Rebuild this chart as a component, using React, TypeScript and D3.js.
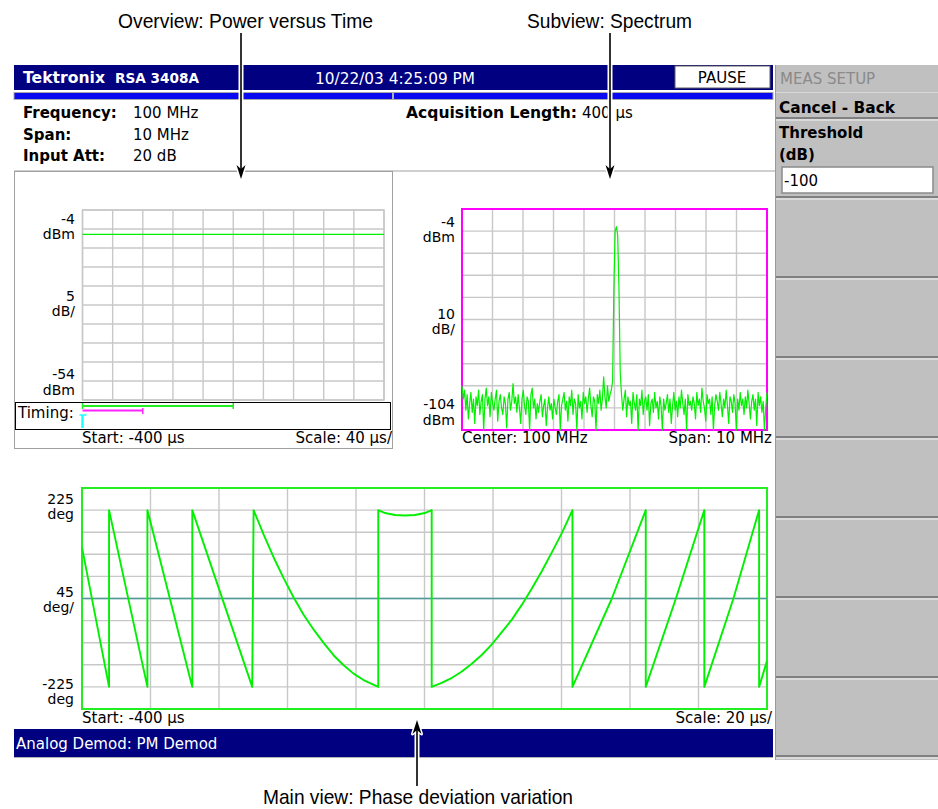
import React from 'react';
import * as d3 from 'd3';

const FONT = "'DejaVu Sans', Verdana, sans-serif";
const ANNO_FONT = "'Liberation Sans Narrow', 'Liberation Sans', Arial, sans-serif";

// ---------- Header info ----------
const headerTitle = ['Tektronix', 'RSA 3408A'];
const headerDate = '10/22/03 4:25:09 PM';
const infoLabels = ['Frequency:', 'Span:', 'Input Att:'];
const infoValues = ['100 MHz', '10 MHz', '20 dB'];
const acqLabel = 'Acquisition Length:';
const acqValue = '400 µs';

// ---------- Soft keys ----------
const menuTitle = 'MEAS SETUP';
const menuItems = ['Cancel - Back'];
const thresholdLabel = ['Threshold', '(dB)'];
const thresholdValue = '-100';
const softkeySeparators = [197, 277, 357, 437, 517, 597, 677, 756];

// ---------- Overview: power vs time ----------
const overviewTimeDomain = [-400, 0];
const overviewDbmDomain = [-54, -4];
const overviewYLabels = [['-4', 'dBm'], ['5', 'dB/'], ['-54', 'dBm']];
const powerTimes = [-400, 0];
const powerDbm = [-10.4, -10.4];
const timingMainSpan = [-400, -200];
const timingSpectrumSpan = [-400, -320];
const timingCursor = -400;

// ---------- Subview: spectrum ----------
const spectrumFreqDomain = [95, 105];
const spectrumDbmDomain = [-104, -4];
const spectrumYLabels = [['-4', 'dBm'], ['10', 'dB/'], ['-104', 'dBm']];
const spectrumDbm = [
  -84, -90, -86, -95, -88, -99, -92, -87, -96, -90, -101, -89, -93, -86, -97, -91, -88, -104, -90, -85,
  -93, -89, -98, -87, -92, -95, -90, -86, -100, -91, -88, -94, -97, -89, -92, -103, -90, -87, -95, -91,
  -83, -92, -89, -96, -88, -94, -101, -90, -86, -93, -97, -89, -91, -104, -88, -85, -94, -90, -99, -92,
  -96, -91, -88, -98, -93, -90, -102, -94, -89, -95, -92, -99, -90, -94, -97, -91, -88, -104, -93, -90,
  -87, -95, -91, -100, -89, -93, -86, -97, -90, -92, -104, -88, -94, -91, -99, -87, -92, -89, -96, -90,
  -85, -93, -98, -89, -91, -104, -88, -92, -86, -95, -90, -80, -89, -94, -84, -91, -88, -86, -82, -40,
  -14, -12, -16, -40, -78, -88, -95, -90, -86, -98, -89, -93, -91, -101, -87, -92, -95, -88, -104, -90,
  -93, -86, -97, -91, -89, -95, -88, -102, -92, -90, -96, -87, -94, -91, -99, -89, -93, -104, -90, -95,
  -92, -88, -96, -90, -101, -93, -87, -95, -91, -98, -89, -94, -86, -92, -97, -90, -104, -88, -93, -91,
  -95, -89, -92, -99, -87, -93, -90, -96, -85, -91, -94, -100, -88, -92, -90, -97, -89, -104, -93, -88,
  -91, -95, -87, -92, -98, -90, -94, -86, -93, -101, -89, -91, -96, -88, -92, -104, -90, -95, -87, -93,
  -90, -97, -89, -94, -86, -92, -99, -91, -88, -95, -90, -102, -87, -93, -89, -96, -91, -104, -94, -87,
];

// ---------- Main view: phase deviation ----------
const phaseTimeDomain = [-400, -200];
const phaseDegDomain = [-225, 225];
const phaseYLabels = [['225', 'deg'], ['45', 'deg/'], ['-225', 'deg']];
const phaseTimes = [
  -400, -392.1, -392.1, -380.9, -380.9, -367.8, -367.8, -350.3,
  -349.9, -346.9, -344.0, -341.1, -338.2, -335.3, -332.3, -329.4, -326.5, -323.6, -320.7, -317.8, -313.5,
  -313.5, -311.5, -308.6, -305.7, -302.8, -299.9, -297.9,
  -297.9, -295.0, -292.1, -289.2, -286.2, -283.3, -280.4, -277.5, -274.5, -271.6, -268.7, -265.8, -262.9, -259.9, -256.8,
  -256.8, -245.3, -235.4, -235.4, -226.6, -218.3, -218.3, -209.8, -202.3, -202.3,
  -200,
];
const phaseDeg = [
  104, -180, 180, -180, 180, -180, 180, -180,
  180, 129, 83, 41, 2, -33, -64, -91, -116, -136, -153, -166, -180,
  180, 174, 170, 169, 170, 174, 180,
  -180, -172, -162, -149, -133, -115, -94, -69, -43, -13, 20, 55, 93, 133, 180,
  -180, 0, 180, -180, 0, 180, -180, 0, 180, -180,
  -127,
];

const statusText = 'Analog Demod: PM Demod';
const annotations = [
  { text: 'Overview: Power versus Time', x0: 118, x1: 373, y: 28 },
  { text: 'Subview: Spectrum', x0: 527, x1: 692, y: 28 },
  { text: 'Main view: Phase deviation variation', x0: 263, x1: 573, y: 804 },
];

const NAVY = '#000080';
const GRID = '#c8c8c8';
const TRACE = '#00f000';

function Grid({ x, y, xTicks, yTicks, stroke }: any) {
  const [x0, x1] = x.range();
  const [y0, y1] = y.range();
  return (
    <g>
      {xTicks.map((t: number, i: number) => (
        <line key={'gx' + i} x1={x(t)} x2={x(t)} y1={y0} y2={y1} stroke={GRID} strokeWidth={1.4} />
      ))}
      {yTicks.map((t: number, i: number) => (
        <line key={'gy' + i} x1={x0} x2={x1} y1={y(t)} y2={y(t)} stroke={GRID} strokeWidth={1.4} />
      ))}
      <rect x={x0} y={y1} width={x1 - x0} height={y0 - y1} fill="none" stroke={stroke} strokeWidth={stroke === GRID ? 1.4 : 2} />
    </g>
  );
}

function YLabels({ labels, xRight, baselines }: any) {
  return (
    <g fontFamily={FONT} fontSize={14} textAnchor="end" fill="#000">
      {labels.map((pair: string[], i: number) => (
        <g key={i}>
          <text x={xRight} y={baselines[i][0]}>{pair[0]}</text>
          <text x={xRight} y={baselines[i][1]}>{pair[1]}</text>
        </g>
      ))}
    </g>
  );
}

function Arrow({ x, yTail, yTip }: any) {
  const dir = yTip > yTail ? 1 : -1;
  const head = `M${x},${yTip} L${x - 4.5},${yTip - dir * 14} L${x},${yTip - dir * 10} L${x + 4.5},${yTip - dir * 14} Z`;
  return (
    <g>
      <line x1={x} x2={x} y1={yTail} y2={yTip - dir * 8} stroke="#fff" strokeWidth={5} />
      <path d={head} fill="#fff" stroke="#fff" strokeWidth={3} strokeLinejoin="round" />
      <line x1={x} x2={x} y1={yTail} y2={yTip - dir * 8} stroke="#000" strokeWidth={1.6} />
      <path d={head} fill="#000" />
    </g>
  );
}

export default function App() {
  const ovX = d3.scaleLinear().domain(overviewTimeDomain).range([82.5, 384]);
  const ovY = d3.scaleLinear().domain(overviewDbmDomain).range([400, 210]);
  const spX = d3.scaleLinear().domain(spectrumFreqDomain).range([462, 767]);
  const spY = d3.scaleLinear().domain(spectrumDbmDomain).range([430, 209]);
  const mX = d3.scaleLinear().domain(phaseTimeDomain).range([82, 767]);
  const mY = d3.scaleLinear().domain(phaseDegDomain).range([709, 488]);

  const powerLine = d3.line<number>().x((_, i) => ovX(powerTimes[i])).y((d) => ovY(d))(powerDbm) || '';
  const nSp = spectrumDbm.length;
  const spFreq = (i: number) => spectrumFreqDomain[0] + (i * (spectrumFreqDomain[1] - spectrumFreqDomain[0])) / (nSp - 1);
  const spLine = d3.line<number>().x((_, i) => spX(spFreq(i))).y((d) => spY(d))(spectrumDbm) || '';
  const phLine = d3.line<number>().x((_, i) => mX(phaseTimes[i])).y((d) => mY(d))(phaseDeg) || '';

  return (
    <svg width={938} height={809} style={{ position: 'absolute', left: 0, top: 0, background: '#fff' }}>
      <rect x={0} y={0} width={938} height={809} fill="#fff" />

      {/* Header bar */}
      <rect x={14} y={65} width={759} height={25} fill={NAVY} />
      <text x={23} y={83} fill="#fff" fontFamily={FONT} fontSize={15} fontWeight="bold" textLength={82} lengthAdjust="spacingAndGlyphs">{headerTitle[0]}</text>
      <text x={115} y={83} fill="#fff" fontFamily={FONT} fontSize={14} fontWeight="bold" textLength={84} lengthAdjust="spacingAndGlyphs">{headerTitle[1]}</text>
      <text x={315} y={84} fill="#fff" fontFamily={FONT} fontSize={15} textLength={160} lengthAdjust="spacingAndGlyphs">{headerDate}</text>
      <rect x={675} y={66} width={95} height={22} fill="#fff" stroke="#606060" strokeWidth={1} />
      <text x={722} y={83} textAnchor="middle" fill="#000" fontFamily={FONT} fontSize={15}>PAUSE</text>

      {/* blue stripe */}
      <rect x={14} y={92.5} width={759} height={7} fill="#0a0af0" stroke="#a8a8a8" strokeWidth={1} />
      <rect x={392} y={92.5} width={2} height={7} fill="#b0b0b0" />

      {/* info block */}
      <g fontFamily={FONT} fontSize={15} fill="#000">
        {infoLabels.map((l, i) => (
          <text key={l} x={23} y={118 + i * 21.5} fontWeight="bold">{l}</text>
        ))}
        {infoValues.map((v, i) => (
          <text key={v} x={133} y={118 + i * 21.5}>{v}</text>
        ))}
        <text x={406} y={118} fontWeight="bold" textLength={171} lengthAdjust="spacingAndGlyphs">{acqLabel}</text>
        <text x={582} y={118}>{acqValue}</text>
      </g>
      <line x1={14} x2={775} y1={171} y2={171} stroke="#a0a0a0" strokeWidth={1} />

      {/* Right soft-key panel */}
      <rect x={776} y={65} width={162} height={695} fill="#c0c0c0" />
      <line x1={775.5} x2={775.5} y1={65} y2={760} stroke="#9a9a9a" strokeWidth={1} />
      <text x={780} y={84} fill="#8a8a8a" fontFamily={FONT} fontSize={15}>{menuTitle}</text>
      <line x1={776} x2={938} y1={92.5} y2={92.5} stroke="#d8d8d8" strokeWidth={1} />
      <text x={779} y={113} fill="#000" fontFamily={FONT} fontSize={15} fontWeight="bold" textLength={116} lengthAdjust="spacingAndGlyphs">{menuItems[0]}</text>
      <line x1={776} x2={938} y1={118} y2={118} stroke="#808080" strokeWidth={2} />
      <line x1={776} x2={938} y1={120} y2={120} stroke="#f4f4f4" strokeWidth={1} />
      <text x={779} y={138} fill="#000" fontFamily={FONT} fontSize={15} fontWeight="bold">{thresholdLabel[0]}</text>
      <text x={779} y={160} fill="#000" fontFamily={FONT} fontSize={15} fontWeight="bold">{thresholdLabel[1]}</text>
      <rect x={782} y={167} width={151} height={26} fill="#fff" stroke="#8a8a8a" strokeWidth={1.5} />
      <text x={784} y={186} fill="#000" fontFamily={FONT} fontSize={15}>{thresholdValue}</text>
      {softkeySeparators.map((y, i) => (
        <g key={i}>
          <line x1={776} x2={938} y1={y} y2={y} stroke="#808080" strokeWidth={2} />
          <line x1={776} x2={938} y1={y + 2} y2={y + 2} stroke="#f4f4f4" strokeWidth={1} />
        </g>
      ))}

      {/* Overview panel */}
      <rect x={14.5} y={171.5} width={378} height={277} fill="none" stroke="#a0a0a0" strokeWidth={1} />
      <Grid x={ovX} y={ovY} xTicks={d3.range(-400, 1, 40)} yTicks={d3.range(-54, -3, 5)} stroke={GRID} />
      <path d={powerLine} fill="none" stroke={TRACE} strokeWidth={1.2} />
      <YLabels labels={overviewYLabels} xRight={75} baselines={[[224, 239], [301, 316], [379, 395]]} />
      <rect x={15.5} y={402.5} width={375} height={27} fill="#fff" stroke="#000" strokeWidth={1} />
      <text x={18} y={418} fontFamily={FONT} fontSize={15} fill="#000">Timing:</text>
      <line x1={ovX(timingMainSpan[0])} x2={ovX(timingMainSpan[1])} y1={406} y2={406} stroke="#22ee22" strokeWidth={2} />
      <line x1={ovX(timingMainSpan[1])} x2={ovX(timingMainSpan[1])} y1={403} y2={409} stroke="#22ee22" strokeWidth={1.5} />
      <line x1={ovX(timingMainSpan[0])} x2={ovX(timingMainSpan[0])} y1={403} y2={409} stroke="#22ee22" strokeWidth={1.5} />
      <line x1={ovX(timingSpectrumSpan[0])} x2={ovX(timingSpectrumSpan[1])} y1={410.5} y2={410.5} stroke="#ff22ff" strokeWidth={2} />
      <line x1={ovX(timingSpectrumSpan[1])} x2={ovX(timingSpectrumSpan[1])} y1={408} y2={414} stroke="#ff22ff" strokeWidth={1.5} />
      <line x1={ovX(timingCursor)} x2={ovX(timingCursor)} y1={415} y2={428} stroke="#22ffff" strokeWidth={2.5} />
      <line x1={ovX(timingCursor) - 3} x2={ovX(timingCursor) + 4} y1={415} y2={415} stroke="#22ffff" strokeWidth={1.5} />
      <text x={82} y={443} fontFamily={FONT} fontSize={15} fill="#000">Start: -400 µs</text>
      <text x={392} y={443} fontFamily={FONT} fontSize={15} fill="#000" textAnchor="end">Scale: 40 µs/</text>

      {/* Spectrum panel */}
      <Grid x={spX} y={spY} xTicks={d3.range(95, 105.01, 1)} yTicks={d3.range(-104, -3, 10)} stroke="#ff00ff" />
      <path d={spLine} fill="none" stroke={TRACE} strokeWidth={1.2} strokeLinejoin="round" />
      <YLabels labels={spectrumYLabels} xRight={455} baselines={[[227, 242], [319, 334], [409, 425]]} />
      <text x={462} y={443} fontFamily={FONT} fontSize={15} fill="#000">Center: 100 MHz</text>
      <text x={772} y={443} fontFamily={FONT} fontSize={15} fill="#000" textAnchor="end">Span: 10 MHz</text>

      {/* Main view */}
      <Grid x={mX} y={mY} xTicks={d3.range(-400, -199, 20)} yTicks={d3.range(-225, 226, 45)} stroke="#22ee22" />
      <line x1={mX(phaseTimeDomain[0])} x2={mX(phaseTimeDomain[1])} y1={mY(0)} y2={mY(0)} stroke="#4f9a9a" strokeWidth={1.6} />
      <path d={phLine} fill="none" stroke={TRACE} strokeWidth={1.9} strokeLinejoin="round" />
      <YLabels labels={phaseYLabels} xRight={74} baselines={[[504, 519], [597, 612], [689, 704]]} />
      <text x={82} y={723} fontFamily={FONT} fontSize={15} fill="#000">Start: -400 µs</text>
      <text x={772} y={723} fontFamily={FONT} fontSize={15} fill="#000" textAnchor="end">Scale: 20 µs/</text>

      {/* Status bar */}
      <rect x={14} y={729} width={759} height={28} fill={NAVY} />
      <line x1={14} x2={773} y1={757.5} y2={757.5} stroke="#b0b0b0" strokeWidth={1} />
      <text x={16} y={749} fill="#fff" fontFamily={FONT} fontSize={15}>{statusText}</text>

      {/* Annotation arrows */}
      <Arrow x={241} yTail={33} yTip={179} />
      <Arrow x={610} yTail={33} yTip={179} />
      <Arrow x={417} yTail={786} yTip={720} />

      {annotations.map((a) => (
        <text key={a.text} x={a.x0} y={a.y} fontFamily={ANNO_FONT} fontSize={21} fill="#000" textLength={a.x1 - a.x0} lengthAdjust="spacingAndGlyphs">{a.text}</text>
      ))}
    </svg>
  );
}
